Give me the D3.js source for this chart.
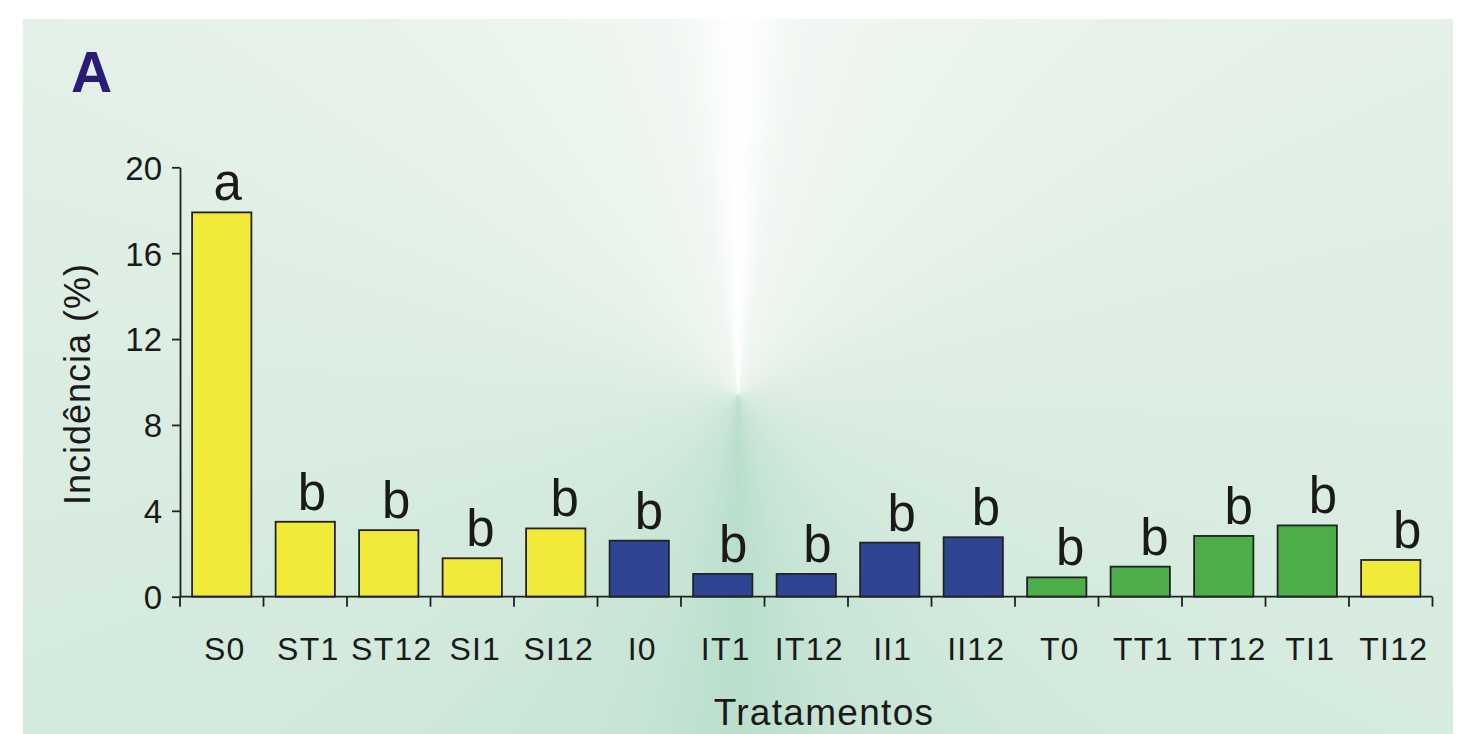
<!DOCTYPE html>
<html>
<head>
<meta charset="utf-8">
<script src="https://cdn.jsdelivr.net/npm/d3@7"></script>
<style>
  html, body { margin: 0; padding: 0; background: #ffffff; }
  #wrap { position: relative; width: 1460px; height: 734px; overflow: hidden; }
  #bg { position: absolute; left: 23px; top: 19px; width: 1430px; height: 715px;
        background: conic-gradient(from 0deg at 715px 376px,
          #ffffff 0deg, #fbfdfb 3deg, #f1f7f2 10deg, #eaf3ec 40deg, #dfeee5 80deg,
          #d3eadd 130deg, #c6e4d4 165deg, #b9dfcb 180deg, #c6e4d4 195deg,
          #d1e9dc 230deg, #dbede2 270deg, #e7f2ea 310deg, #f1f7f2 350deg, #fbfdfb 357deg, #ffffff 360deg); }
  svg { position: absolute; left: 0; top: 0; }
  text { font-family: "Liberation Sans", Arial, sans-serif; fill: #1a1a1a; }
</style>
</head>
<body>
<div id="wrap"><div id="bg"></div></div>
<script>
// ---- Data ----
const categories = ["S0","ST1","ST12","SI1","SI12","I0","IT1","IT12","II1","II12","T0","TT1","TT12","TI1","TI12"];
const incidence  = [17.9, 3.49, 3.1, 1.79, 3.18, 2.61, 1.06, 1.06, 2.52, 2.77, 0.9, 1.4, 2.83, 3.32, 1.71];
const groups     = ["S","S","S","S","S","I","I","I","I","I","T","T","T","T","S"];
const letters    = ["a","b","b","b","b","b","b","b","b","b","b","b","b","b","b"];
const yTicks     = [0, 4, 8, 12, 16, 20];
const groupNames = ["S","I","T"];

// ---- Layout ----
const W = 1460, H = 734;
const x0 = 180, x1 = 1432.5, yBase = 596.7, yTop = 167.3;

const svg = d3.select("#wrap").append("svg").attr("width", W).attr("height", H);

const x = d3.scaleBand().domain(categories).range([x0, x1]).paddingInner(0.29).paddingOuter(0.145);
const y = d3.scaleLinear().domain([0, 20]).range([yBase, yTop]);
const color = d3.scaleOrdinal().domain(groupNames).range(["#f2ea38", "#2f4592", "#4cae48"]);

const data = categories.map((c, i) => ({ c, v: incidence[i], g: groups[i], l: letters[i], i }));

// panel label
svg.append("text").attr("x", 71).attr("y", 92)
  .style("font-size", "57px").style("font-weight", "bold").style("fill", "#2a1b78")
  .text("A");

// bars
svg.append("g").selectAll("rect").data(data).join("rect")
  .attr("x", d => x(d.c))
  .attr("y", d => y(d.v))
  .attr("width", x.bandwidth())
  .attr("height", d => y(0) - y(d.v))
  .attr("fill", d => color(d.g))
  .attr("stroke", "#222")
  .attr("stroke-width", 1.8);

// y axis
const yAxis = d3.axisLeft(y).tickValues(yTicks).tickSize(8).tickSizeOuter(0).tickPadding(10);
const gy = svg.append("g").attr("transform", `translate(${x0},0)`).call(yAxis);
gy.select(".domain").attr("stroke", "#222").attr("stroke-width", 1.8);
gy.selectAll(".tick line").attr("stroke", "#222").attr("stroke-width", 1.8);
gy.selectAll(".tick text").style("font-size", "33px").style("font-family", "'Liberation Sans', Arial, sans-serif")
  .attr("fill", "#1a1a1a").attr("dy", "0.36em");

// x axis (baseline + boundary ticks)
const step = x.step();
const boundaries = d3.range(categories.length + 1).map(i => x0 + i * step);
svg.append("line").attr("x1", x0).attr("x2", x1).attr("y1", y(0)).attr("y2", y(0))
  .attr("stroke", "#222").attr("stroke-width", 1.8);
svg.append("g").selectAll("line").data(boundaries).join("line")
  .attr("x1", d => d).attr("x2", d => d)
  .attr("y1", y(0)).attr("y2", y(0) + 10)
  .attr("stroke", "#222").attr("stroke-width", 1.8);

// category labels
svg.append("g").selectAll("text").data(data).join("text")
  .attr("x", d => x(d.c) + x.bandwidth() / 2 + 3)
  .attr("y", 660)
  .attr("text-anchor", "middle")
  .style("font-size", "32px").style("letter-spacing", "1.2px")
  .text(d => d.c);

// significance letters
svg.append("g").selectAll("text").data(data).join("text")
  .attr("x", d => x(d.c) + x.bandwidth() / 2 + 6 + d.i * 0.75)
  .attr("y", d => y(d.v) - 12)
  .attr("text-anchor", "middle")
  .style("font-size", "51px")
  .text(d => d.l);

// axis titles
svg.append("text")
  .attr("transform", "translate(90,384) rotate(-90)")
  .attr("text-anchor", "middle")
  .style("font-size", "36px").style("letter-spacing", "1px")
  .text("Incidência (%)");

svg.append("text").attr("x", 824).attr("y", 725)
  .attr("text-anchor", "middle")
  .style("font-size", "37px").style("letter-spacing", "1.3px")
  .text("Tratamentos");
</script>
</body>
</html>
